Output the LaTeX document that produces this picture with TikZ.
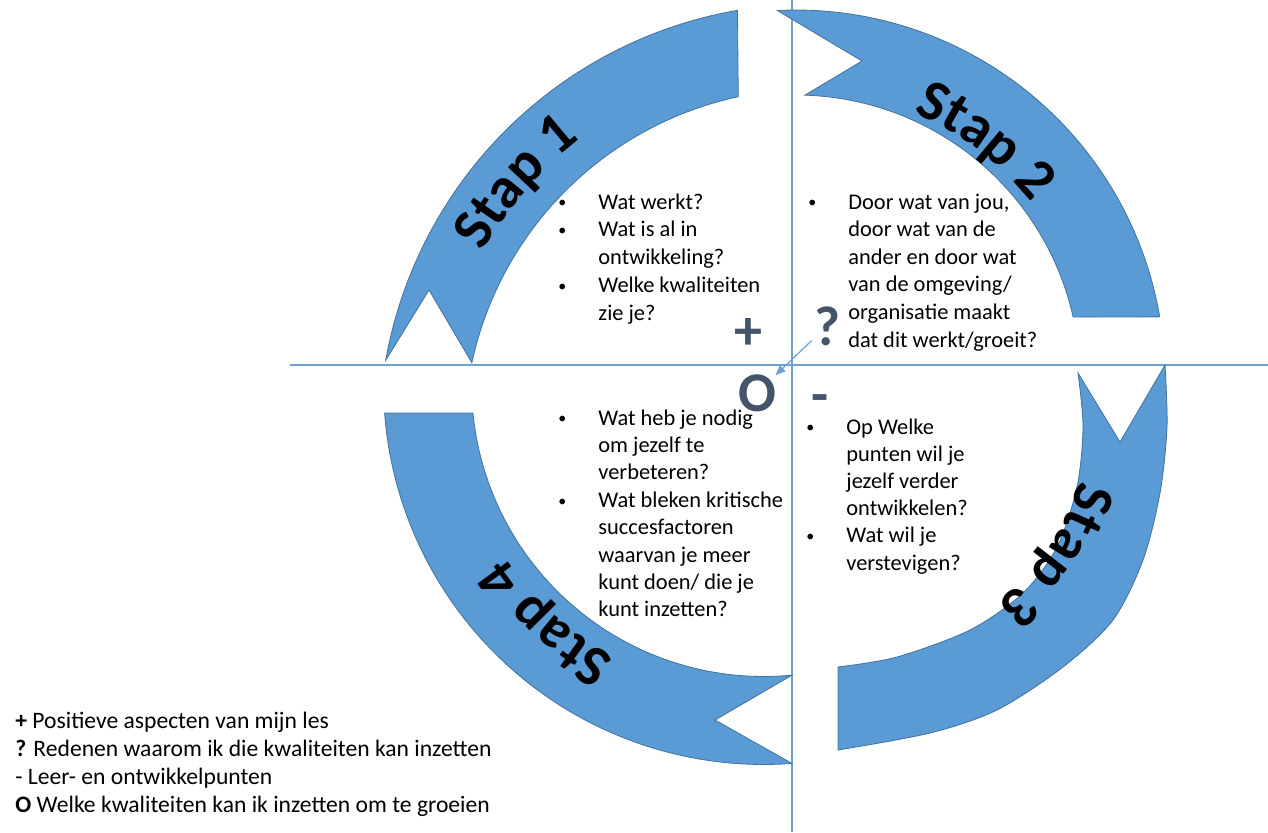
\documentclass[tikz,border=0pt]{standalone}
\usepackage{fontspec}
\setmainfont{Carlito}
\usetikzlibrary{decorations.text,arrows.meta}
\definecolor{bandfill}{RGB}{91,155,213}
\definecolor{bandedge}{RGB}{65,113,156}
\definecolor{axiscol}{RGB}{110,160,210}
\definecolor{symcol}{RGB}{68,84,106}
\newcommand\qbul{\makebox[20.5pt][l]{\makebox[5pt][c]{\raisebox{0.6pt}{\fontsize{8}{8}\selectfont\textbullet}}}}
\newcommand\qnob{\hspace*{20.5pt}}
\newcommand\stapfont{\fontsize{29}{30}\selectfont\bfseries}
\begin{document}
\begin{tikzpicture}[x=0.5pt,y=-0.5pt,
  band/.style={fill=bandfill,draw=bandedge,line width=0.4pt},
  axis/.style={draw=axiscol,line width=0.6pt},
  sym/.style={font=\fontsize{28}{30}\selectfont\bfseries,text=symcol,inner sep=1pt,anchor=base},
  qtxt/.style={anchor=base west,inner sep=0pt,align=left},
  staplbl/.style={decorate,decoration={text along path,text align=center,text={|\stapfont|#1}}}]
\useasboundingbox (0,0) rectangle (1268,832);
% axes
\coordinate (vtop) at (792,0);
\coordinate (vbot) at (792,832);
\coordinate (hl) at (290,365);
\coordinate (hr) at (1268,365);
\draw[axis] (vtop) -- (vbot);
\draw[axis] (hl) -- (hr);
% Stap 1 band
\filldraw[band] plot[domain=190.1:260.2,samples=60] ({811+432*cos(\x)},{436+432*sin(\x)})
  -- plot[domain=257.9:192.2,samples=60] ({811+347*cos(\x)},{436+347*sin(\x)})
  -- (429,290) -- cycle;
% Stap 2 band
\filldraw[band] plot[domain=267.1:350.3,samples=60] ({796+369*cos(\x)},{379+369*sin(\x)})
  -- plot[domain=347.4:271.8,samples=60] ({796+284*cos(\x)},{379+284*sin(\x)})
  -- (862,61) -- cycle;
% Stap 3 band
\filldraw[band] plot[smooth] coordinates {(1165,365) (1167,427) (1160,493) (1143,560) (1113,620) (1063,667) (997,710) (930,733) (838,750)}
  -- plot[smooth] coordinates {(838,667) (897,657) (970,630) (1023,593) (1057,547) (1077,487) (1083,427) (1078,373)}
  -- (1120,442) -- cycle;
% Stap 4 band
\filldraw[band] plot[domain=85.7:175.7,samples=60] ({763.5+380*cos(\x)},{384.5+380*sin(\x)})
  -- plot[domain=174.4:84.4,samples=60] ({763.5+292*cos(\x)},{384.5+292*sin(\x)})
  -- (715,720) -- cycle;
% Stap labels
\path[staplbl={Stap 1}] plot[domain=195.7:245.7,samples=60] ({811+376*cos(\x)},{436+376*sin(\x)});
\path[staplbl={Stap 2}] plot[domain=279.7:334.7,samples=60] ({795.8+302*cos(\x)},{390.7+302*sin(\x)});
\path[staplbl={Stap 3}] plot[domain=5:63,samples=60] ({860.6+226*cos(\x)},{422+226*sin(\x)});
\path[staplbl={Stap 4}] plot[domain=104.4:160.4,samples=60] ({763.5+311*cos(\x)},{384.5+311*sin(\x)});
% question blocks
\node[qtxt,font=\fontsize{11.2}{13.9}\selectfont] (t1) at (557,209) {\begin{tabular}[t]{@{}l@{}}\qbul Wat werkt?\\ \qbul Wat is al in\\ \qnob ontwikkeling?\\ \qbul Welke kwaliteiten\\ \qnob zie je?\end{tabular}};
\node[qtxt,font=\fontsize{11.2}{13.8}\selectfont] (t2) at (807,209) {\begin{tabular}[t]{@{}l@{}}\qbul Door wat van jou,\\ \qnob door wat van de\\ \qnob ander en door wat\\ \qnob van de omgeving/\\ \qnob organisatie maakt\\ \qnob dat dit werkt/groeit?\end{tabular}};
\node[qtxt,font=\fontsize{11.2}{13.7}\selectfont] (t3) at (557,425) {\begin{tabular}[t]{@{}l@{}}\qbul Wat heb je nodig\\ \qnob om jezelf te\\ \qnob verbeteren?\\ \qbul Wat bleken kritische\\ \qnob succesfactoren\\ \qnob waarvan je meer\\ \qnob kunt doen/ die je\\ \qnob kunt inzetten?\end{tabular}};
\node[qtxt,font=\fontsize{11.2}{13.6}\selectfont] (t4) at (805,434) {\begin{tabular}[t]{@{}l@{}}\qbul Op Welke\\ \qnob punten wil je\\ \qnob jezelf verder\\ \qnob ontwikkelen?\\ \qbul Wat wil je\\ \qnob verstevigen?\end{tabular}};
% symbols
\node[sym] (plus) at (748,349) {+};
\node[sym] (q) at (827,345) {?};
\node[sym] (o) at (757,411) {O};
\node[sym] (minus) at (820,413) {-};
\draw[axis,shorten >=-2pt,-{Triangle[length=5pt,width=4pt]}] (q) -- (o);
% legend
\node[qtxt,font=\fontsize{11.8}{14.15}\selectfont] (legend) at (15,728) {\begin{tabular}[t]{@{}l@{}}\textbf{+} Positieve aspecten van mijn les\\ \textbf{?} Redenen waarom ik die kwaliteiten kan inzetten\\ - Leer- en ontwikkelpunten\\ \textbf{O} Welke kwaliteiten kan ik inzetten om te groeien\end{tabular}};
\end{tikzpicture}
\end{document}
